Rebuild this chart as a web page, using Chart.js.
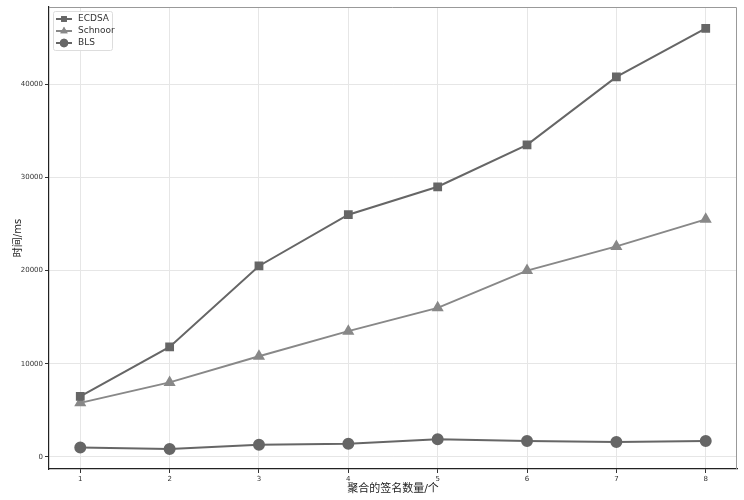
<!DOCTYPE html>
<html>
<head>
<meta charset="utf-8">
<script src="https://cdn.jsdelivr.net/npm/chart.js@4.4.0/dist/chart.umd.min.js"></script>
<style>
  html, body { margin: 0; padding: 0; background: #fff; }
  #wrap { width: 744px; height: 500px; }
</style>
</head>
<body>
<div id="wrap"><canvas id="myChart" width="744" height="500"></canvas></div>
<script>
// data
const counts = [1, 2, 3, 4, 5, 6, 7, 8];
const ecdsa = [6500, 11800, 20500, 26000, 29000, 33500, 40800, 46000];
const schnoor = [5800, 8000, 10800, 13500, 16000, 20000, 22600, 25500];
const bls = [1000, 850, 1300, 1400, 1900, 1700, 1600, 1700];
const yTicks = [0, 10000, 20000, 30000, 40000];
const seriesNames = ['ECDSA', 'Schnoor', 'BLS'];

const font = "'DejaVu Sans', 'Noto Sans CJK SC', sans-serif";

const toPoints = (vals) => vals.map((v, i) => ({ x: counts[i], y: v }));

// legend box inside plot (top-left) + grey top/right frame
const innerLegend = {
  id: 'innerLegend',
  afterDraw(chart) {
    const { ctx, chartArea: a } = chart;
    ctx.save();
    ctx.strokeStyle = '#999';
    ctx.lineWidth = 1;
    ctx.beginPath();
    ctx.moveTo(a.left, a.top + 0.5);
    ctx.lineTo(a.right - 0.5, a.top + 0.5);
    ctx.lineTo(a.right - 0.5, a.bottom);
    ctx.stroke();

    const x0 = a.left + 4, y0 = a.top + 4;
    ctx.fillStyle = 'rgba(255,255,255,0.85)';
    ctx.strokeStyle = '#ddd';
    ctx.beginPath();
    ctx.roundRect(x0 + 0.5, y0 + 0.5, 59, 39, 2);
    ctx.fill();
    ctx.stroke();

    chart.data.datasets.forEach((ds, i) => {
      const cy = y0 + 8 + i * 12;
      ctx.strokeStyle = ds.borderColor;
      ctx.lineWidth = 2;
      ctx.beginPath();
      ctx.moveTo(x0 + 3, cy);
      ctx.lineTo(x0 + 19, cy);
      ctx.stroke();
      ctx.fillStyle = ds.backgroundColor;
      ctx.lineWidth = 0;
      Chart.helpers.drawPoint(ctx, {
        pointStyle: ds.pointStyle,
        radius: ds.pointRadius * 0.85,
        rotation: 0,
        borderWidth: 0
      }, x0 + 11, cy);
      ctx.fill();
      ctx.fillStyle = '#333';
      ctx.font = '9px ' + font;
      ctx.textBaseline = 'middle';
      ctx.fillText(ds.label, x0 + 25, cy);
    });
    ctx.restore();
  }
};

const ctx = document.getElementById('myChart').getContext('2d');
new Chart(ctx, {
  type: 'line',
  data: {
    datasets: [
      {
        label: seriesNames[0],
        data: toPoints(ecdsa),
        borderColor: '#666',
        backgroundColor: '#666',
        pointStyle: 'rect',
        pointRadius: 4.8,
        borderWidth: 2,
      },
      {
        label: seriesNames[1],
        data: toPoints(schnoor),
        borderColor: '#888',
        backgroundColor: '#888',
        pointStyle: 'triangle',
        pointRadius: 5,
        borderWidth: 2,
      },
      {
        label: seriesNames[2],
        data: toPoints(bls),
        borderColor: '#666',
        backgroundColor: '#666',
        pointStyle: 'circle',
        pointRadius: 5,
        borderWidth: 2,
      },
    ],
  },
  options: {
    responsive: false,
    animation: false,
    layout: { padding: { left: 0, top: 5, right: 7, bottom: 0 } },
    plugins: {
      legend: { display: false },
      tooltip: { enabled: false },
    },
    elements: { point: { borderWidth: 0 }, line: { tension: 0 } },
    scales: {
      x: {
        type: 'linear',
        min: 0.65,
        max: 8.35,
        afterBuildTicks: (axis) => { axis.ticks = counts.map((v) => ({ value: v })); },
        afterFit: (axis) => { axis.height = 31; },
        grid: { color: '#e6e6e6', tickLength: 4, tickColor: '#333' },
        border: { color: '#222', width: 1.2 },
        ticks: { color: '#333', font: { size: 7, family: font }, padding: 2 },
        title: {
          display: true,
          text: '聚合的签名数量/个',
          color: '#222',
          font: { size: 11, family: font },
          padding: { top: 0, bottom: 4 },
        },
      },
      y: {
        type: 'linear',
        min: -1300,
        max: 48300,
        afterBuildTicks: (axis) => { axis.ticks = yTicks.map((v) => ({ value: v })); },
        afterFit: (axis) => { axis.width = 49; },
        grid: { color: '#e6e6e6', tickLength: 4, tickColor: '#333' },
        border: { color: '#222', width: 1.2 },
        ticks: { color: '#333', font: { size: 7, family: font }, padding: 2, callback: (v) => String(v) },
        title: {
          display: true,
          text: '时间/ms',
          color: '#222',
          font: { size: 10, family: font },
          padding: { top: 12, bottom: 0 },
        },
      },
    },
  },
  plugins: [innerLegend],
});
</script>
</body>
</html>
